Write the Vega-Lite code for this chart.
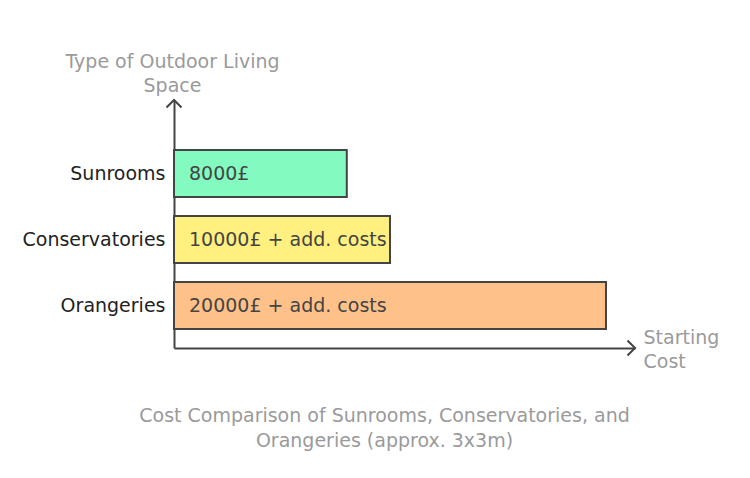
{
  "$schema": "https://vega.github.io/schema/vega-lite/v6.json",
  "autosize": "none",
  "width": 461,
  "height": 248,
  "padding": {"left": 174, "top": 100, "right": 115, "bottom": 130},
  "background": "white",
  "config": {
    "font": "DejaVu Sans",
    "view": {"stroke": null}
  },
  "title": {
    "text": ["Cost Comparison of Sunrooms, Conservatories, and", "Orangeries (approx. 3x3m)"],
    "orient": "bottom",
    "anchor": "middle",
    "frame": "group",
    "dx": -20,
    "offset": 36,
    "baseline": "top",
    "fontSize": 19,
    "fontWeight": "normal",
    "color": "#9a9a9a",
    "lineHeight": 25
  },
  "resolve": {"scale": {"y": "independent"}},
  "layer": [
    {
      "data": {
        "values": [
          {"space": "Sunrooms", "cost": 8000, "label": "8000£"},
          {"space": "Conservatories", "cost": 10000, "label": "10000£ + add. costs"},
          {"space": "Orangeries", "cost": 20000, "label": "20000£ + add. costs"}
        ]
      },
      "layer": [
        {
          "mark": {"type": "bar", "stroke": "#444444", "strokeWidth": 2},
          "encoding": {
            "y": {
              "field": "space",
              "type": "nominal",
              "sort": ["Sunrooms", "Conservatories", "Orangeries"],
              "scale": {"paddingInner": 0.288, "paddingOuter": 0.5227, "align": 0.725},
              "axis": {
                "title": ["Type of Outdoor Living", "Space"],
                "titleAngle": 0,
                "titleX": -2,
                "titleY": -39,
                "titleAlign": "center",
                "titleBaseline": "middle",
                "titleFontSize": 19,
                "titleFontWeight": "normal",
                "titleColor": "#9a9a9a",
                "titleLineHeight": 24,
                "labelFontSize": 19,
                "labelColor": "#222222",
                "labelPadding": 9,
                "ticks": false,
                "domainColor": "#444444",
                "domainWidth": 2
              }
            },
            "x": {
              "field": "cost",
              "type": "quantitative",
              "scale": {"domain": [0, 21343], "nice": false},
              "axis": {
                "title": ["Starting", "Cost"],
                "titleAngle": 0,
                "titleX": 469,
                "titleY": -11,
                "titleAlign": "left",
                "titleBaseline": "middle",
                "titleFontSize": 19,
                "titleFontWeight": "normal",
                "titleColor": "#9a9a9a",
                "titleLineHeight": 24,
                "labels": false,
                "ticks": false,
                "grid": false,
                "domainColor": "#444444",
                "domainWidth": 2
              }
            },
            "color": {
              "field": "space",
              "type": "nominal",
              "scale": {
                "domain": ["Sunrooms", "Conservatories", "Orangeries"],
                "range": ["#82FAC0", "#FFF080", "#FFC18A"]
              },
              "legend": null
            }
          }
        },
        {
          "mark": {"type": "text", "align": "left", "baseline": "middle", "dx": 15, "fontSize": 19, "color": "#444444"},
          "encoding": {
            "y": {"field": "space", "type": "nominal", "sort": ["Sunrooms", "Conservatories", "Orangeries"]},
            "x": {"datum": 0, "type": "quantitative"},
            "text": {"field": "label", "type": "nominal"}
          }
        }
      ]
    },
    {
      "data": {
        "values": [
          {"dir": "up", "ax": 0, "ay": 1},
          {"dir": "right", "ax": 21343, "ay": 0}
        ]
      },
      "mark": {"type": "point", "filled": false, "size": 225, "stroke": "#444444", "strokeWidth": 2, "opacity": 1},
      "encoding": {
        "x": {"field": "ax", "type": "quantitative"},
        "y": {"field": "ay", "type": "quantitative", "scale": {"domain": [0, 1], "nice": false}, "axis": null},
        "shape": {
          "field": "dir",
          "type": "nominal",
          "scale": {
            "domain": ["up", "right"],
            "range": ["M-1,1L0,0L1,1", "M-1,-1L0,0L-1,1"]
          },
          "legend": null
        }
      }
    }
  ]
}
